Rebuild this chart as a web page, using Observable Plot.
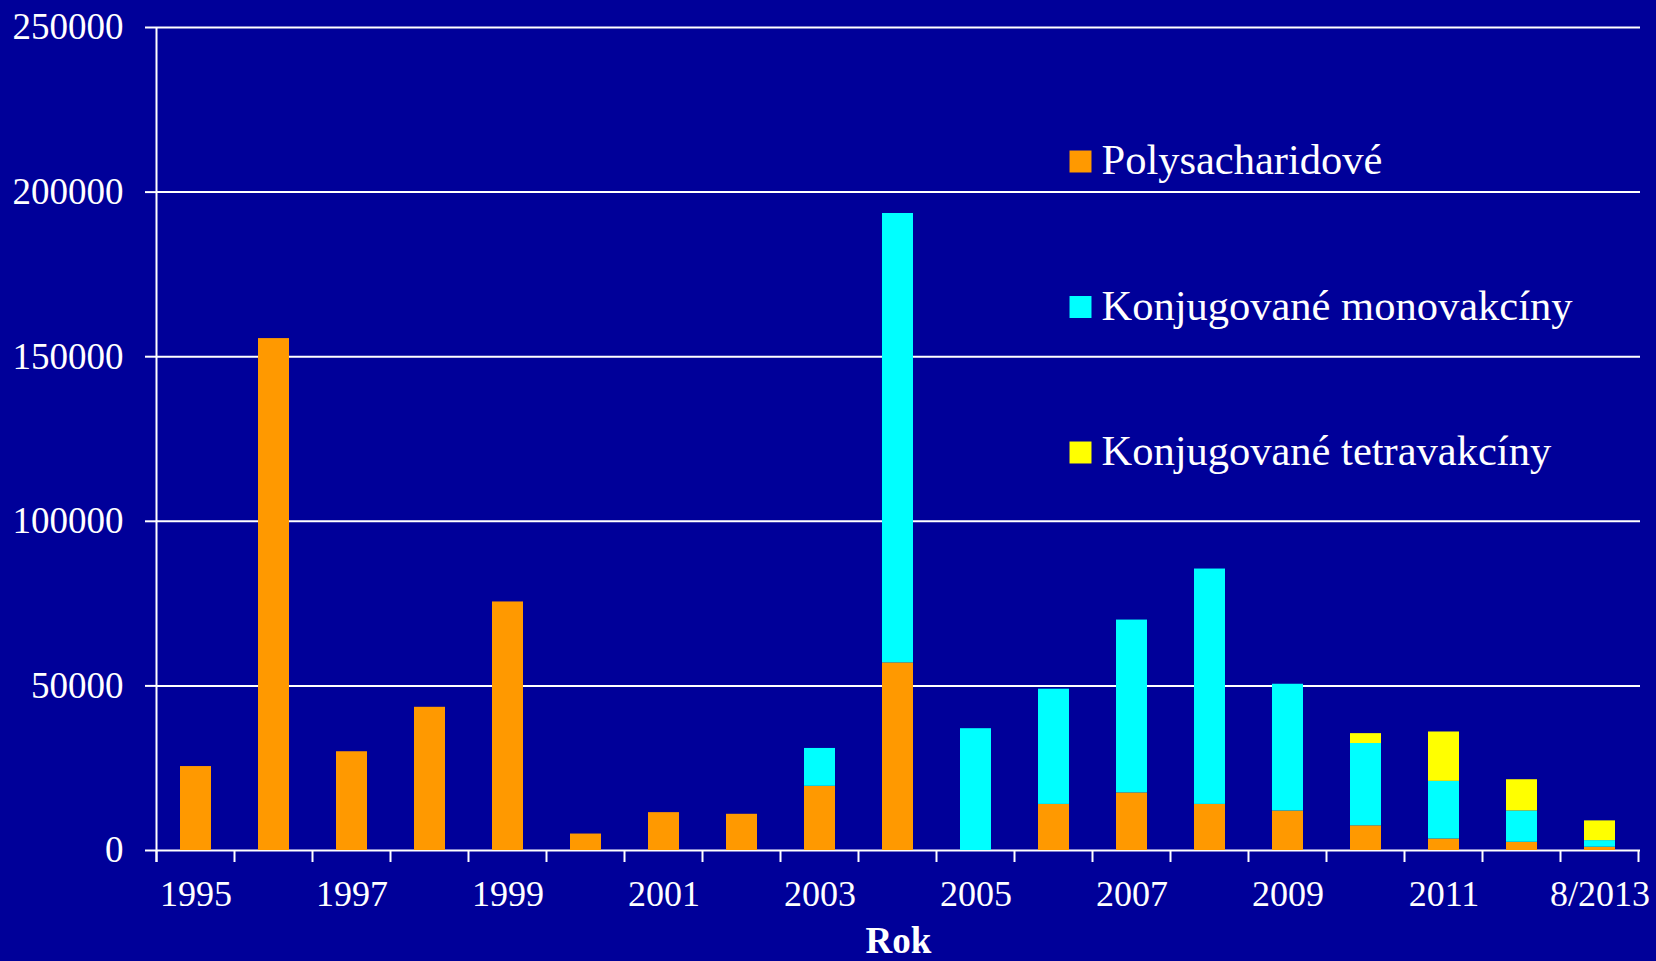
<!DOCTYPE html>
<html>
<head>
<meta charset="utf-8">
<script src="https://cdn.jsdelivr.net/npm/d3@7"></script>
<script src="https://cdn.jsdelivr.net/npm/@observablehq/plot@0.6"></script>
<style>
  html, body { margin: 0; padding: 0; background: #000099; }
  #chart { width: 1656px; height: 961px; }
</style>
</head>
<body>
<div id="chart"></div>
<script>
const years = ["1995","1996","1997","1998","1999","2000","2001","2002","2003","2004","2005","2006","2007","2008","2009","2010","2011","2012","8/2013"];
const tickLabels = ["1995","1997","1999","2001","2003","2005","2007","2009","2011","8/2013"];
const series = ["Polysacharidové", "Konjugované monovakcíny", "Konjugované tetravakcíny"];
const colors = ["#FF9900", "#00FFFF", "#FFFF00"];
const polysacharidove = [25500,155500,30000,43500,75500,5000,11500,11000,19500,57000,0,14000,17500,14000,12000,7500,3500,2500,1000];
const monovakciny     = [0,0,0,0,0,0,0,0,11500,136500,37000,35000,52500,71500,38500,25000,17500,9500,2000];
const tetravakciny    = [0,0,0,0,0,0,0,0,0,0,0,0,0,0,0,3000,15000,9500,6000];
const yTicks = [0,50000,100000,150000,200000,250000];

const valuesBySeries = [polysacharidove, monovakciny, tetravakciny];
const rows = years.flatMap((year, i) =>
  series.map((s, k) => ({year, series: s, value: valuesBySeries[k][i]}))
);

// custom mark: x-axis ticks at category boundaries + left axis line
function boundaryTicks(index, scales, values, dimensions) {
  const x = scales.x;
  const dom = x.domain();
  const bw = x.bandwidth ? x.bandwidth() : 0;
  const step = x.step ? x.step() : (x(dom[1]) - x(dom[0]));
  const y0 = dimensions.height - dimensions.marginBottom;
  const bounds = dom.map(d => x(d) + bw / 2 - step / 2);
  bounds.push(x(dom[dom.length - 1]) + bw / 2 + step / 2);
  const g = d3.create("svg:g").attr("stroke", "white").attr("stroke-width", 2);
  g.selectAll("line.t").data(bounds).join("line")
    .attr("class", "t")
    .attr("x1", d => d).attr("x2", d => d)
    .attr("y1", y0).attr("y2", y0 + 12);
  g.append("line")
    .attr("x1", bounds[0]).attr("x2", bounds[0])
    .attr("y1", dimensions.marginTop).attr("y2", y0 + 12);
  return g.node();
}

const legendMarks = series.flatMap((s, i) => [
  Plot.dot([s], {frameAnchor: "top-left", dx: 924, dy: 134 + i * 145.5, symbol: "square", r: 12.4, fill: colors[i], stroke: null}),
  Plot.text([s], {frameAnchor: "top-left", dx: 945, dy: 133 + i * 145.5, text: d => d, textAnchor: "start", lineAnchor: "middle", fontSize: 42.5, fill: "white"})
]);

const chart = Plot.plot({
  width: 1656,
  height: 961,
  marginLeft: 156,
  marginRight: 16,
  marginTop: 27,
  marginBottom: 111,
  style: {background: "#000099", color: "white", fontFamily: "'Liberation Serif', 'Times New Roman', serif"},
  x: {domain: years, paddingInner: 0.6, paddingOuter: 0.3, label: null},
  y: {domain: [0, 250000], label: null},
  color: {domain: series, range: colors},
  marks: [
    Plot.gridY(yTicks, {stroke: "white", strokeOpacity: 1, strokeWidth: 2}),
    Plot.barY(rows, {x: "year", y: "value", fill: "series", order: series}),
    Plot.axisY({ticks: yTicks, tickSize: 11, tickPadding: 22, tickFormat: d => String(d), fontSize: 37, stroke: "white", strokeWidth: 2, fill: "white", label: null}),
    Plot.axisX({ticks: tickLabels, tickSize: 0, tickPadding: 30, fontSize: 36, fill: "white", label: null}),
    boundaryTicks,
    Plot.text(["Rok"], {frameAnchor: "bottom", dy: 102, text: d => d, fontSize: 37, fontWeight: "bold", fill: "white"}),
    ...legendMarks
  ]
});
document.getElementById("chart").appendChild(chart);
</script>
</body>
</html>
